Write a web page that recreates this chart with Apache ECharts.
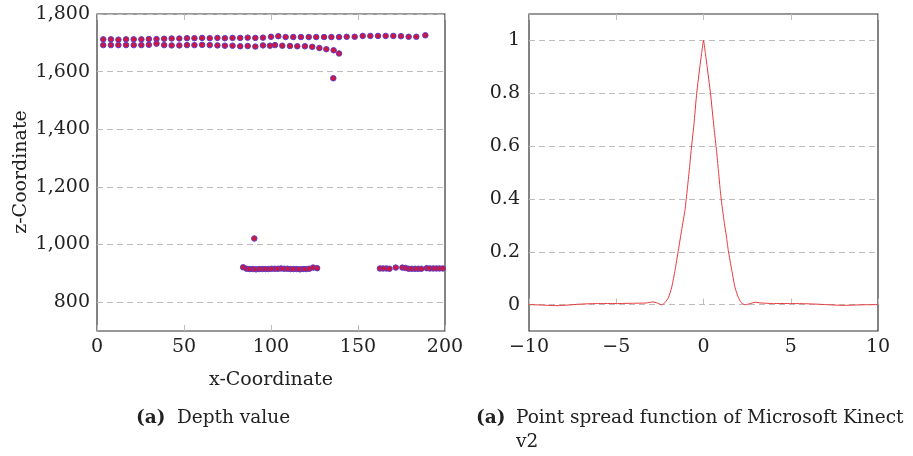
<!DOCTYPE html>
<html><head><meta charset="utf-8">
<script src="https://cdn.jsdelivr.net/npm/echarts@6/dist/echarts.min.js"></script>
<style>html,body{margin:0;padding:0;background:#fff}#c{width:913px;height:456px}</style>
</head><body><div id="c"></div>
<script>
// ---- Left: depth values (x-Coordinate vs z-Coordinate) ----
const upperX = [3.6,8.0,12.3,16.7,21.1,25.5,29.8,34.2,38.6,42.9,47.3,51.7,56.0,60.4,64.8,69.2,73.5,77.9,82.3,86.6,91.0,95.4,100.0,104.2,108.4,112.8,117.2,121.7,126.0,130.5,134.7,139.1,143.5,148.1,152.7,157.1,161.5,165.9,170.3,174.7,179.1,183.5,188.7];
const upperZ = [1712,1712,1711,1712,1712,1712,1713,1713,1714,1715,1715,1716,1716,1717,1716,1717,1716,1717,1717,1718,1717,1718,1721,1723,1720,1720,1720,1720,1720,1720,1720,1720,1721,1721,1724,1724,1724,1724,1724,1723,1721,1721,1726];
const lowerX = [3.6,8.0,12.3,16.7,21.1,25.5,29.8,34.2,38.6,42.9,47.3,51.7,56.0,60.4,64.8,69.2,73.5,77.9,82.3,86.6,91.0,95.4,99.4,102.3,106.5,110.9,115.1,119.5,123.7,127.8,131.8,136.0,139.1];
const lowerZ = [1692,1692,1692,1692,1692,1692,1693,1697,1692,1691,1691,1692,1692,1693,1692,1691,1690,1690,1688,1689,1687,1691,1690,1692,1690,1689,1688,1688,1686,1682,1678,1674,1663];
const outlierX = [90.4,135.8];
const outlierZ = [1021,1577];
const floorAX = [84.0,86.0,87.8,89.6,91.4,93.2,95.0,96.8,98.6,100.4,102.2,104.0,105.8,107.6,109.4,111.2,113.0,114.8,116.6,118.4,120.2,122.0,124.2,126.5];
const floorAZ = [921,916,915,915,914,915,915,915,915,916,916,916,917,916,916,915,915,915,914,915,915,916,920,918];
const floorBX = [162.6,164.4,166.3,168.1,171.7,175.5,177.3,179.1,180.9,182.8,184.6,186.4,189.5,191.3,193.2,195.0,196.8,198.7];
const floorBZ = [917,917,917,916,920,920,919,916,916,916,916,916,918,917,917,917,917,917];
const depthYTicks = [800,1000,1200,1400,1600,1800];
const depthXTicks = [0,50,100,150,200];

// ---- Right: point spread function ----
const psfX = [-10,-9.2,-8.4,-7.6,-7,-6,-5,-4,-3.3,-2.9,-2.65,-2.4,-2.2,-2.0,-1.82,-1.63,-1.44,-1.25,-1.06,-0.93,-0.81,-0.7,-0.55,-0.39,-0.2,-0.1,0,0.1,0.2,0.4,0.6,0.75,0.85,0.95,1.04,1.17,1.33,1.42,1.62,1.8,1.99,2.15,2.35,2.6,2.95,3.3,4,5,6,7,8,9,10];
const psfY = [0,-0.002,-0.004,-0.001,0.002,0.004,0.004,0.005,0.006,0.01,0.006,-0.001,0.008,0.028,0.066,0.13,0.206,0.283,0.359,0.436,0.512,0.589,0.68,0.8,0.905,0.955,1.0,0.955,0.905,0.8,0.67,0.58,0.51,0.44,0.385,0.32,0.25,0.205,0.13,0.066,0.028,0.008,0,0.002,0.009,0.006,0.004,0.004,0.003,0.0,-0.003,-0.001,0];
const psfYTicks = [0,0.2,0.4,0.6,0.8,1];
const psfXTicks = [-10,-5,0,5,10];

const FONT = 'DejaVu Serif';
const zip = (xs, ys) => xs.map((x, i) => [x, ys[i]]);
const fmtThousands = v => v >= 1000 ? Math.floor(v / 1000) + ',' + String(v % 1000).padStart(3, '0') : String(v);
const gridColor = '#bdbdbd';
const tickStyle = { show: true, inside: true, length: 6, lineStyle: { color: '#bdbdbd', width: 1 } };
const lblStyle = { fontFamily: FONT, fontSize: 19, color: '#222' };

const depthData = [].concat(zip(upperX, upperZ), zip(lowerX, lowerZ), zip(outlierX, outlierZ), zip(floorAX, floorAZ), zip(floorBX, floorBZ));
const psfData = zip(psfX, psfY);

const chart = echarts.init(document.getElementById('c'), null, { renderer: 'canvas' });
chart.setOption({
  animation: false,
  backgroundColor: '#fff',
  grid: [
    { left: 97, top: 14, width: 348, height: 317, show: true, borderColor: '#333', borderWidth: 1.2, backgroundColor: 'transparent' },
    { left: 529, top: 14, width: 349, height: 317, show: true, borderColor: '#333', borderWidth: 1.2, backgroundColor: 'transparent' }
  ],
  xAxis: [
    { gridIndex: 0, type: 'value', min: 0, max: 200, interval: 50, position: 'bottom',
      axisLine: { show: false }, axisTick: tickStyle, splitLine: { show: false },
      axisLabel: Object.assign({ margin: 7, formatter: v => depthXTicks.includes(v) ? String(v) : '' }, lblStyle) },
    { gridIndex: 0, type: 'value', min: 0, max: 200, interval: 50, position: 'top',
      axisLine: { show: false }, axisTick: tickStyle, splitLine: { show: false }, axisLabel: { show: false } },
    { gridIndex: 1, type: 'value', min: -10, max: 10, interval: 5, position: 'bottom',
      axisLine: { show: false }, axisTick: tickStyle, splitLine: { show: false },
      axisLabel: Object.assign({ margin: 7, formatter: v => psfXTicks.includes(v) ? (v < 0 ? '\u2212' + Math.abs(v) : String(v)) : '' }, lblStyle) },
    { gridIndex: 1, type: 'value', min: -10, max: 10, interval: 5, position: 'top',
      axisLine: { show: false }, axisTick: tickStyle, splitLine: { show: false }, axisLabel: { show: false } }
  ],
  yAxis: [
    { gridIndex: 0, type: 'value', min: 700, max: 1800, interval: 100,
      axisLine: { show: false }, axisTick: { show: false },
      splitLine: { show: true, lineStyle: { color: ['rgba(0,0,0,0)', gridColor], type: [6, 4], width: 1 } },
      axisLabel: Object.assign({ margin: 7, formatter: v => depthYTicks.includes(v) ? fmtThousands(v) : '' }, lblStyle) },
    { gridIndex: 1, type: 'value', min: -0.1, max: 1.1, interval: 0.1,
      axisLine: { show: false }, axisTick: { show: false },
      splitLine: { show: true, lineStyle: { color: ['rgba(0,0,0,0)', gridColor], type: [6, 4], width: 1 } },
      axisLabel: Object.assign({ margin: 9, formatter: v => {
        const t = Math.round(v * 10) / 10;
        return psfYTicks.includes(t) ? (t === 0 ? '0' : t === 1 ? '1' : t.toFixed(1)) : '';
      } }, lblStyle) }
  ],
  series: [
    { type: 'scatter', xAxisIndex: 0, yAxisIndex: 0, data: depthData, symbol: 'circle', symbolSize: 5.5,
      itemStyle: { color: '#d3143c', borderColor: '#5a3cc8', borderWidth: 1, opacity: 1 } },
    { type: 'line', xAxisIndex: 2, yAxisIndex: 1, data: psfData, symbol: 'none', smooth: 0.15,
      lineStyle: { color: '#e6383c', width: 1 } }
  ],
  graphic: [
    { type: 'text', x: 271, y: 380, style: { text: 'x-Coordinate', font: '19px "DejaVu Serif"', fill: '#222', textAlign: 'center', textVerticalAlign: 'middle' } },
    { type: 'text', x: 21, y: 172, rotation: Math.PI / 2, style: { text: 'z-Coordinate', font: '19px "DejaVu Serif"', fill: '#222', textAlign: 'center', textVerticalAlign: 'middle' } },
    { type: 'text', x: 136, y: 418, style: { text: '(a)', font: 'bold 18.5px "DejaVu Serif"', fill: '#222', textAlign: 'left', textVerticalAlign: 'middle' } },
    { type: 'text', x: 177, y: 418, style: { text: 'Depth value', font: '18.5px "DejaVu Serif"', fill: '#222', textAlign: 'left', textVerticalAlign: 'middle' } },
    { type: 'text', x: 476, y: 418, style: { text: '(a)', font: 'bold 18.5px "DejaVu Serif"', fill: '#222', textAlign: 'left', textVerticalAlign: 'middle' } },
    { type: 'text', x: 516, y: 418, style: { text: 'Point spread function of Microsoft Kinect', font: '18.5px "DejaVu Serif"', fill: '#222', textAlign: 'left', textVerticalAlign: 'middle' } },
    { type: 'text', x: 516, y: 442, style: { text: 'v2', font: '18.5px "DejaVu Serif"', fill: '#222', textAlign: 'left', textVerticalAlign: 'middle' } }
  ]
});
</script>
</body></html>
